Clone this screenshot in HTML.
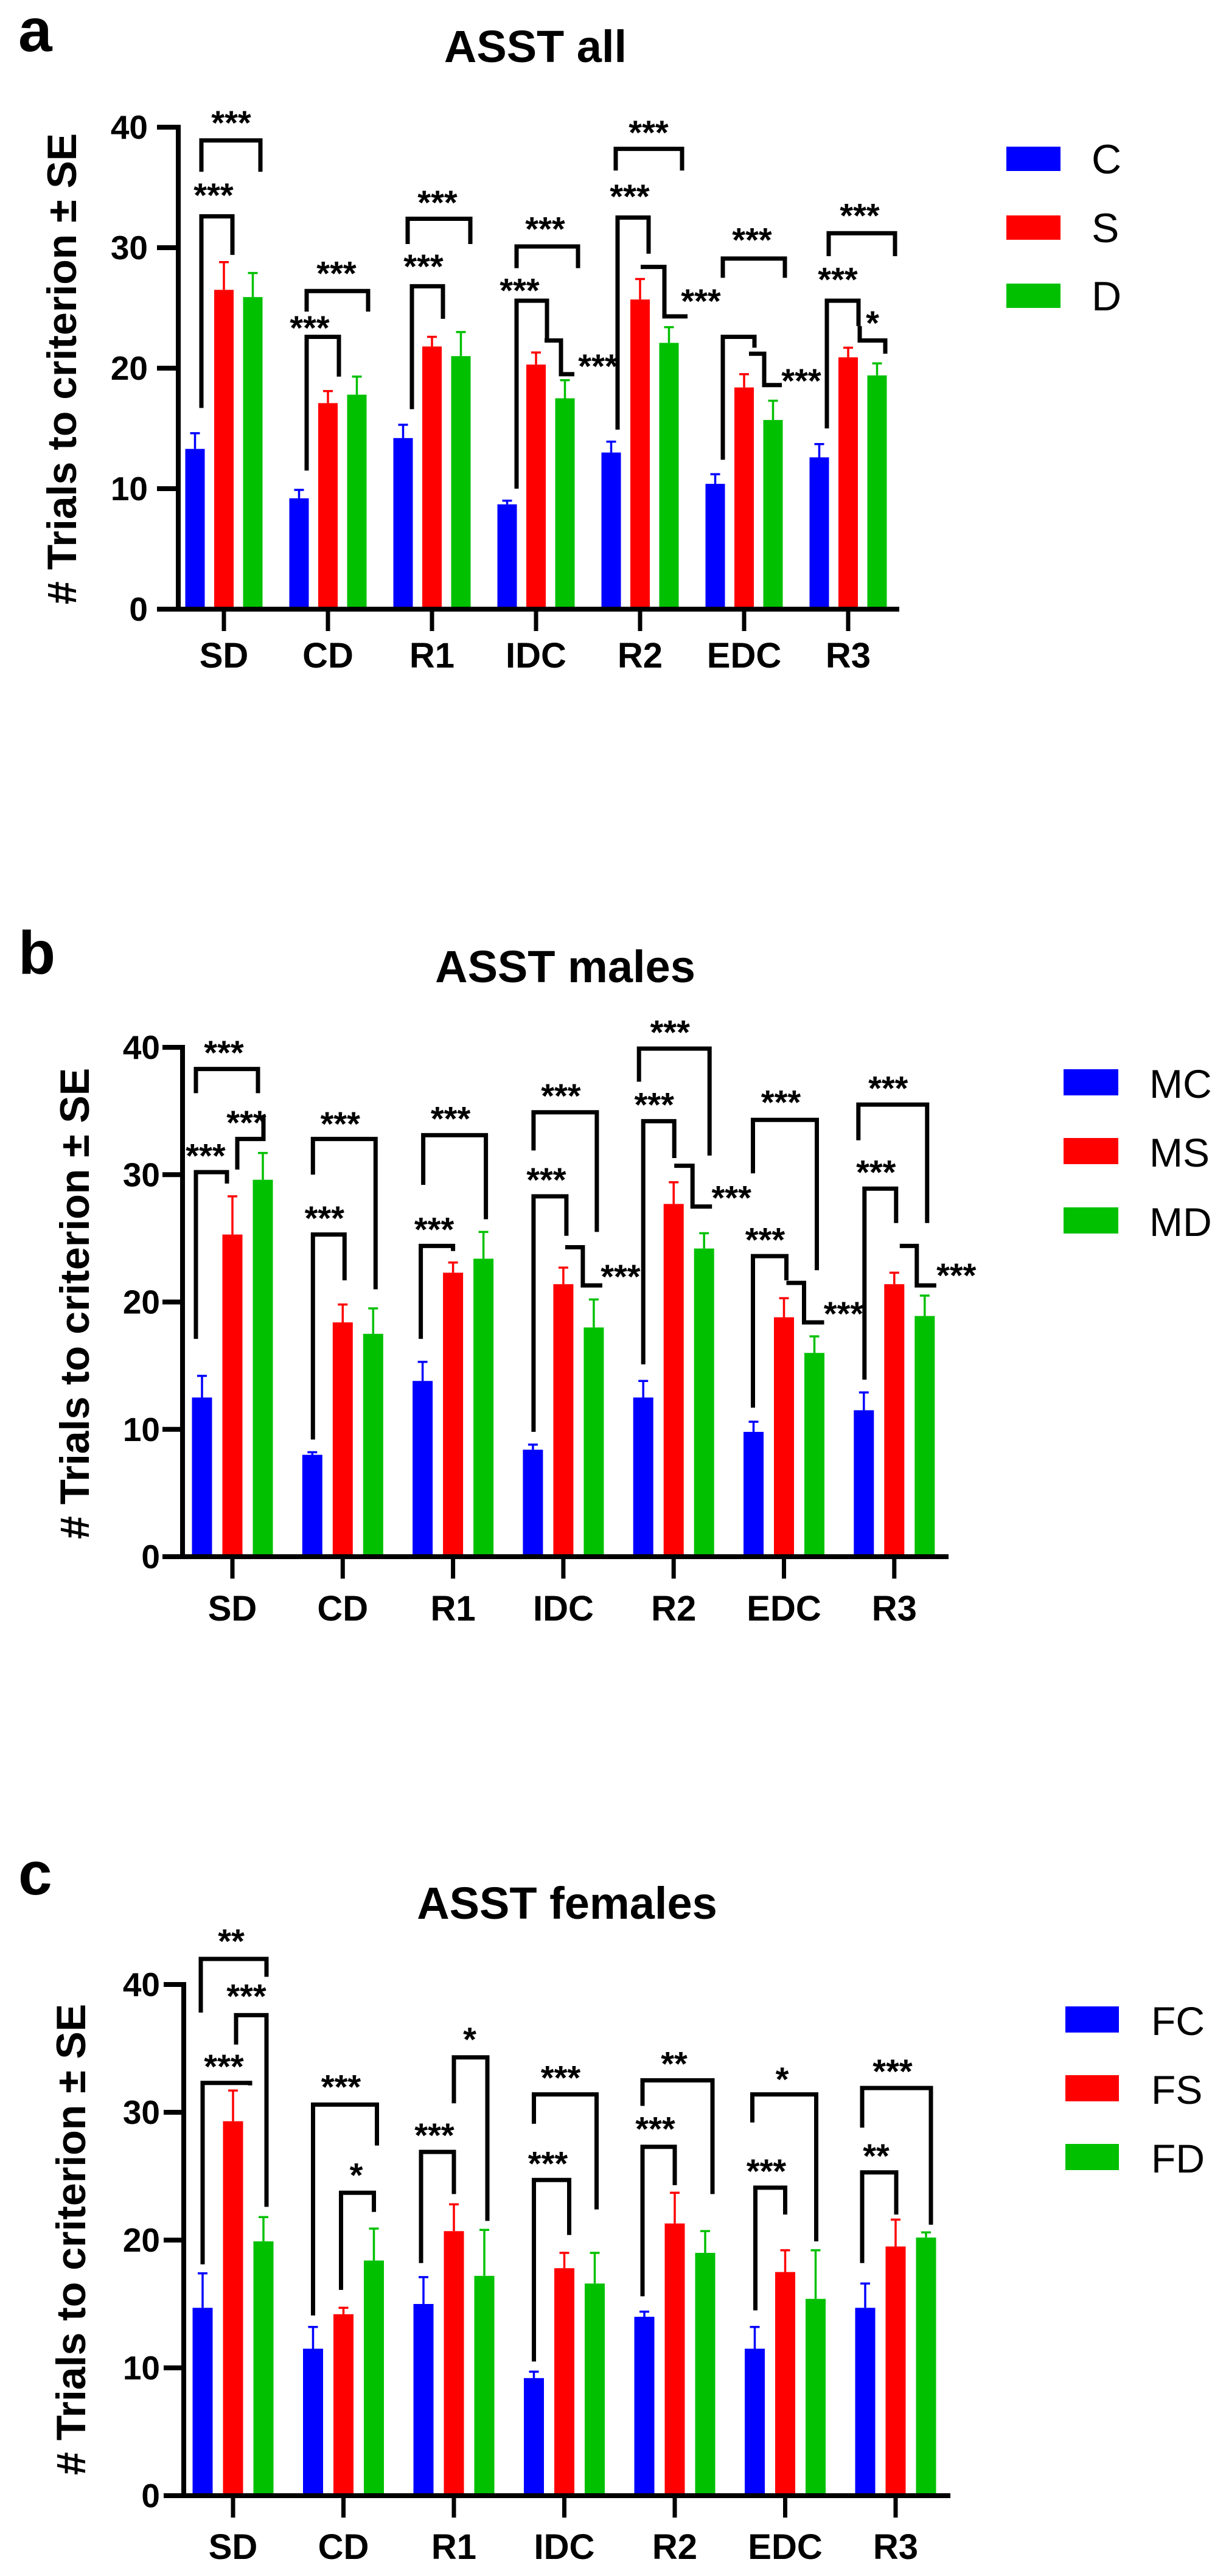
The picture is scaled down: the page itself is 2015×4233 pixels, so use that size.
<!DOCTYPE html>
<html><head><meta charset="utf-8"><style>
html,body{margin:0;padding:0;background:#fff;}
svg{display:block;font-family:"Liberation Sans",Arial,sans-serif;}
</style></head><body>
<svg id="fig" width="2015" height="4233" viewBox="0 0 2015 4233" xmlns="http://www.w3.org/2000/svg"></svg>
<script>
const categories = ['SD','CD','R1','IDC','R2','EDC','R3'];
const yTicks = [0,10,20,30,40];
const seriesColors = ['#0000ff','#ff0000','#00c000'];
// Panel a
const aNames = ['C','S','D'];
const aC = [13.3,9.2,14.2,8.7,13.0,10.4,12.6];
const aCerr = [14.6,9.9,15.3,9.0,13.9,11.2,13.7];
const aS = [26.5,17.1,21.8,20.3,25.7,18.4,20.9];
const aSerr = [28.8,18.1,22.6,21.3,27.4,19.5,21.7];
const aD = [25.9,17.8,21.0,17.5,22.1,15.7,19.4];
const aDerr = [27.9,19.3,23.0,19.0,23.4,17.3,20.4];
// Panel b
const bNames = ['MC','MS','MD'];
const bC = [12.5,8.0,13.8,8.4,12.5,9.8,11.5];
const bCerr = [14.2,8.2,15.3,8.8,13.8,10.6,12.9];
const bS = [25.3,18.4,22.3,21.4,27.7,18.8,21.4];
const bSerr = [28.3,19.8,23.1,22.7,29.4,20.3,22.3];
const bD = [29.6,17.5,23.4,18.0,24.2,16.0,18.9];
const bDerr = [31.7,19.5,25.5,20.2,25.4,17.3,20.5];
// Panel c
const cNames = ['FC','FS','FD'];
const cC = [14.7,11.5,15.0,9.2,14.0,11.5,14.7];
const cCerr = [17.4,13.2,17.1,9.7,14.4,13.2,16.6];
const cS = [29.3,14.2,20.7,17.8,21.3,17.5,19.5];
const cSerr = [31.7,14.7,22.8,19.0,23.7,19.2,21.6];
const cD = [19.9,18.4,17.2,16.6,19.0,15.4,20.2];
const cDerr = [21.8,20.9,20.8,19.0,20.7,19.2,20.6];
// significance brackets: [type, cat, ...] values in data units
const aBrackets = [
 ['b',0,-37,60,38.9,36.3,36.3,'***',12,41.0],
 ['b',0,-37,14,32.6,16.7,29.4,'***',-17,35.0],
 ['b',1,-35,66,26.4,24.7,24.7,'***',14,28.5],
 ['b',1,-35,18,22.6,11.5,19.3,'***',-30,24.0],
 ['b',2,-40,63,32.4,30.3,30.3,'***',9,34.4],
 ['b',2,-33,18,26.8,16.6,24.1,'***',-14,29.1],
 ['b',3,-32,69,30.1,28.3,28.3,'***',15,32.2],
 ['b',3,-32,18,25.6,10.0,22.3,'***',-27,27.1],
 ['s',3,14,41,63,22.3,19.5,'***',102,20.8],
 ['b',4,-40,69,38.2,36.4,36.4,'***',14,40.2],
 ['b',4,-37,14,32.5,14.9,29.5,'***',-17,34.9],
 ['s',4,1,40,78,28.4,24.3,'***',100,26.2],
 ['b',5,-35,67,29.1,27.5,27.5,'***',13,31.3],
 ['b',5,-35,17,22.6,12.4,21.7,'',0,0],
 ['s',5,8,33,62,21.2,18.6,'***',94,19.6],
 ['b',6,-32,77,31.2,29.3,29.3,'***',19,33.3],
 ['b',6,-35,17,25.6,15.0,23.5,'***',-17,28.0],
 ['u',6,19,61,23.5,22.3,21.2,'*',40,24.4]
];
const bBrackets = [
 ['b',0,-60,42,38.3,36.4,36.4,'***',-14,40.2],
 ['b',0,-60,-9,30.2,17.1,29.3,'***',-44,32.1],
 ['u',0,8,51,30.4,32.8,34.5,'***',23,34.7],
 ['b',1,-49,54,32.8,30.0,21.0,'***',-4,34.6],
 ['b',1,-49,3,25.3,9.2,21.7,'***',-30,27.2],
 ['b',2,-49,54,33.1,29.2,26.5,'***',-4,35.0],
 ['b',2,-53,0,24.4,17.1,24.0,'***',-31,26.3],
 ['b',3,-49,55,34.9,31.9,25.5,'***',-4,36.8],
 ['b',3,-49,5,28.3,9.8,25.2,'***',-28,30.2],
 ['s',3,3,32,64,24.3,21.3,'***',94,22.6],
 ['b',4,-57,59,39.9,37.3,31.5,'***',-6,41.8],
 ['b',4,-50,1,34.2,15.1,31.3,'***',-32,36.1],
 ['s',4,1,31,63,30.7,27.5,'***',95,28.8],
 ['b',5,-51,54,34.3,30.1,22.5,'***',-5,36.3],
 ['b',5,-51,4,23.6,11.7,21.7,'***',-31,25.5],
 ['s',5,4,33,66,21.5,18.4,'***',98,19.7],
 ['b',6,-59,54,35.5,32.7,26.2,'***',-10,37.4],
 ['b',6,-49,3,28.9,13.9,26.2,'***',-30,30.8],
 ['s',6,9,37,69,24.4,21.3,'***',102,22.7]
];
const cBrackets = [
 ['b',0,-53,55,42.0,37.8,40.6,'**',-3,44.0],
 ['b',0,5,55,37.6,35.3,22.6,'***',22,39.7],
 ['b',0,-50,28,32.3,18.1,32.1,'***',-15,34.2],
 ['b',1,-50,55,30.6,14.1,27.4,'***',-4,32.6],
 ['b',1,-4,50,23.7,16.1,22.2,'*',21,25.7],
 ['b',2,-54,0,26.9,18.2,23.6,'***',-32,28.8],
 ['b',2,0,55,34.3,30.7,21.5,'*',26,36.3],
 ['b',3,-50,53,31.4,29.1,22.4,'***',-6,33.3],
 ['b',3,-50,8,24.7,10.5,20.4,'***',-27,26.6],
 ['b',4,-53,62,32.5,30.5,23.6,'**',-1,34.4],
 ['b',4,-53,0,27.3,15.6,24.3,'***',-32,29.3],
 ['b',5,-54,51,31.4,29.2,19.9,'*',-5,33.2],
 ['b',5,-49,0,24.1,14.5,22.0,'***',-31,26.0],
 ['b',6,-55,58,31.9,28.8,21.2,'***',-5,33.8],
 ['b',6,-55,1,25.3,18.2,22.0,'**',-32,27.2]
];

const NS='http://www.w3.org/2000/svg';
const svg=document.getElementById('fig');
function mk(tag,attrs,parent,txt){const e=document.createElementNS(NS,tag);for(const k in attrs)e.setAttribute(k,attrs[k]);if(txt!==undefined)e.textContent=txt;(parent||svg).appendChild(e);return e;}

const panels=[
 {id:'a',title:'ASST all',names:aNames,vals:[aC,aS,aD],errs:[aCerr,aSerr,aDerr],br:aBrackets,
  ax:293,y0:1001,y40:209,c0:368,step:171,slot:47.5,bw:32,xEnd:1478,tickL:35,tickLabR:243,xLab:1097,
  tx:880,ty:102,lx:30,ly:84,legX:1654,legW:89,legY:[241,354,466],legH:40,legTX:1794,legFS:68,ytX:125,ytC:606},
 {id:'b',title:'ASST males',names:bNames,vals:[bC,bS,bD],errs:[bCerr,bSerr,bDerr],br:bBrackets,
  ax:300,y0:2558,y40:1721,c0:382,step:181.3,slot:50,bw:33,xEnd:1559,tickL:33,tickLabR:263,xLab:2663,
  tx:929,ty:1614,lx:30,ly:1600,legX:1748,legW:90,legY:[1757,1870,1984],legH:43,legTX:1889,legFS:66,ytX:146,ytC:2142},
 {id:'c',title:'ASST females',names:cNames,vals:[cC,cS,cD],errs:[cCerr,cSerr,cDerr],br:cBrackets,
  ax:302,y0:4101,y40:3261,c0:383,step:181.5,slot:50,bw:33,xEnd:1562,tickL:33,tickLabR:263,xLab:4205,
  tx:932,ty:3153,lx:30,ly:3113,legX:1751,legW:88,legY:[3297,3410,3523],legH:43,legTX:1892,legFS:66,ytX:140,ytC:3680}
];

panels.forEach(p=>{
 const g=mk('g',{});
 
 
 const y=v=>p.y0-(p.y0-p.y40)*v/40;
 const cx=i=>p.c0+p.step*i;
 let t=mk('text',{x:p.lx,y:p.ly,'font-size':100,'font-weight':'bold'},g,p.id);
 
 
 t=mk('text',{x:p.tx,y:p.ty,'font-size':74,'font-weight':'bold','text-anchor':'middle'},g,p.title);
 
 
 t=mk('text',{x:0,y:0,'font-size':68,'font-weight':'bold','text-anchor':'middle',transform:`translate(${p.ytX},${p.ytC}) rotate(-90)`},g,'# Trials to criterion ± SE');
 
 
 // bars
 for(let s=0;s<3;s++){
  for(let i=0;i<categories.length;i++){
   const xc=cx(i)+(s-1)*p.slot;
   const top=y(p.vals[s][i]);
   const r=mk('rect',{x:xc-p.bw/2,y:top,width:p.bw,height:p.y0-top,fill:seriesColors[s]},g);
   
   
   const e=y(p.errs[s][i]);
   const eb=mk('path',{d:`M${xc} ${top} V${e} M${xc-8} ${e} H${xc+8}`,stroke:seriesColors[s],'stroke-width':3.5,fill:'none'},g);
   
   
  }
 }
 // axes
 const ya=mk('path',{d:`M${p.ax} ${p.y40-4} V${p.y0}`,stroke:'#000','stroke-width':8,fill:'none'},g);
 
 
 yTicks.forEach(v=>{
  const tk=mk('path',{d:`M${p.ax-p.tickL} ${y(v)} H${p.ax}`,stroke:'#000','stroke-width':8},g);
  
  
  const tl=mk('text',{x:p.tickLabR,y:y(v)+19,'font-size':55,'font-weight':'bold','text-anchor':'end'},g,String(v));
  
  
 });
 const xa=mk('path',{d:`M${p.ax-p.tickL} ${p.y0} H${p.xEnd}`,stroke:'#000','stroke-width':8,fill:'none'},g);
 
 
 categories.forEach((c,i)=>{
  const tk=mk('path',{d:`M${cx(i)} ${p.y0} V${p.y0+36}`,stroke:'#000','stroke-width':7},g);
  
  
  const tl=mk('text',{x:cx(i),y:p.xLab,'font-size':58,'font-weight':'bold','text-anchor':'middle'},g,c);
  
  
 });
 // brackets
 p.br.forEach((b,k)=>{
  const c=cx(b[1]);let d,lab,ldx,lv;
  if(b[0]==='b'){
   d=`M${c+b[2]} ${y(b[5])} V${y(b[4])} H${c+b[3]} V${y(b[6])}`;
   lab=b[7];ldx=b[8];lv=b[9];
  }else if(b[0]==='s'){
   d=`M${c+b[2]} ${y(b[5])} H${c+b[3]} V${y(b[6])} H${c+b[4]}`;
   lab=b[7];ldx=b[8];lv=b[9];
  }else{
   d=`M${c+b[2]} ${y(b[4])} V${y(b[5])} H${c+b[3]} V${y(b[6])}`;
   lab=b[7];ldx=b[8];lv=b[9];
  }
  const pa=mk('path',{d:d,stroke:'#000','stroke-width':7,fill:'none','stroke-linejoin':'miter'},g);
  
  
  if(lab){
   const lt=mk('text',{x:c+ldx,y:y(lv)+32,'font-size':56,'font-weight':'bold','text-anchor':'middle'},g,lab);
   
   
  }
 });
 // legend
 for(let s=0;s<3;s++){
  const lg=mk('g',{},g);
  
  
  mk('rect',{x:p.legX,y:p.legY[s],width:p.legW,height:p.legH,fill:seriesColors[s]},lg);
  mk('text',{x:p.legTX,y:p.legY[s]+p.legH+4,'font-size':p.legFS},lg,p.names[s]);
 }
});
</script>
</body></html>
